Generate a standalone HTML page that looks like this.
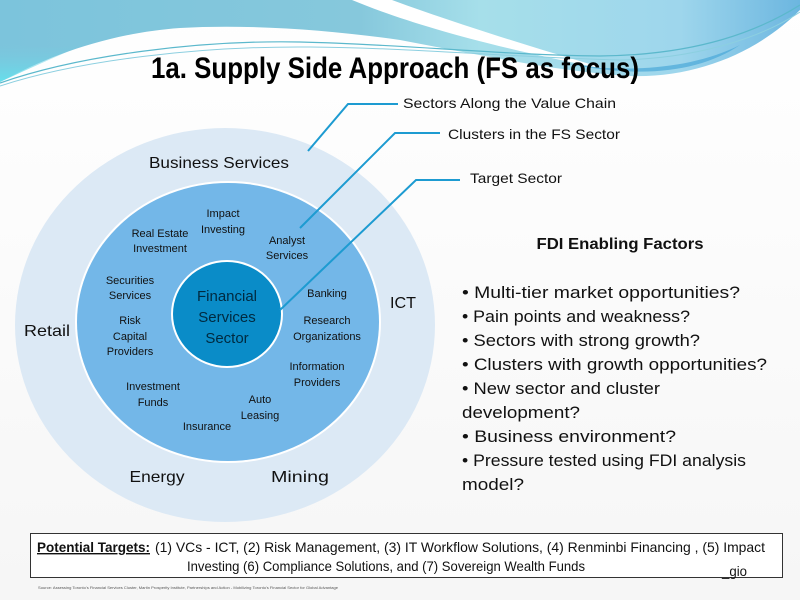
<!DOCTYPE html>
<html><head><meta charset="utf-8"><style>
html,body{margin:0;padding:0;width:800px;height:600px;overflow:hidden;background:#fff}
svg text{font-family:"Liberation Sans",sans-serif}
</style></head><body>
<svg width="800" height="600" viewBox="0 0 800 600" xmlns="http://www.w3.org/2000/svg">
<defs>
<linearGradient id="g1" x1="0" y1="0" x2="1" y2="0">
<stop offset="0" stop-color="#7cc4dc"/><stop offset="0.45" stop-color="#86c8dc"/><stop offset="0.6" stop-color="#a6dfea"/><stop offset="0.85" stop-color="#9ed6ec"/><stop offset="1" stop-color="#6cb6e0"/></linearGradient>
<linearGradient id="g3" x1="0" y1="0" x2="0" y2="1">
<stop offset="0" stop-color="#7cc4dc" stop-opacity="0"/><stop offset="1" stop-color="#66e0ec"/></linearGradient>
<linearGradient id="bg" x1="0" y1="0" x2="0" y2="1">
<stop offset="0" stop-color="#ffffff"/><stop offset="1" stop-color="#f6f6f6"/></linearGradient>
</defs>
<rect width="800" height="600" fill="url(#bg)"/>
<path d="M0 0 H800 V10 C760 50 700 78 630 76 C560 72 480 55 400 40 C330 30 250 24 180 28 C110 33 50 55 0 82 Z" fill="url(#g1)"/>
<path d="M0 40 C30 50 60 50 90 42 C60 55 30 68 0 82 Z" fill="url(#g3)"/>
<path d="M352 0 C400 20 480 45 610 70 C500 38 430 14 392 0 Z" fill="#fff"/>
<path d="M560 62 C620 74 690 70 740 45 C700 72 640 80 560 62 Z" fill="#4aa8d8" opacity="0.7"/>
<path d="M0 83 C80 55 200 40 300 42 C400 44 500 55 600 56 C700 55 760 30 800 5" fill="none" stroke="#5bb8cc" stroke-width="1.2"/>
<path d="M0 86 C80 60 200 46 310 47 C420 48 520 58 620 60 C710 58 770 32 800 12" fill="none" stroke="#8ccfe0" stroke-width="1"/>

<text x="395" y="78" font-size="30" font-weight="bold" text-anchor="middle" textLength="488" lengthAdjust="spacingAndGlyphs" fill="#000">1a. Supply Side Approach (FS as focus)</text>

<ellipse cx="225" cy="325" rx="210" ry="197" fill="#dce9f5"/>
<ellipse cx="228" cy="322" rx="153" ry="141" fill="#fff"/>
<ellipse cx="228" cy="322" rx="151" ry="139" fill="#73b7e8"/>
<ellipse cx="227" cy="314" rx="56" ry="54" fill="#fff"/>
<ellipse cx="227" cy="314" rx="54" ry="52" fill="#0a8cc8"/>

<g fill="none" stroke="#1d9bd1" stroke-width="2">
<polyline points="308,151 348,104 398,104"/>
<polyline points="300,228 395,133 440,133"/>
<polyline points="280,310 416,180 460,180"/>
</g>
<g font-size="14" fill="#111">
<text x="403" y="108" textLength="213" lengthAdjust="spacingAndGlyphs">Sectors Along the Value Chain</text>
<text x="448" y="139" textLength="172" lengthAdjust="spacingAndGlyphs">Clusters in the FS Sector</text>
<text x="470" y="183" textLength="92" lengthAdjust="spacingAndGlyphs">Target Sector</text>
</g>

<g font-size="16" fill="#111" text-anchor="middle">
<text x="219" y="168" textLength="140" lengthAdjust="spacingAndGlyphs">Business Services</text>
<text x="47" y="336" textLength="46" lengthAdjust="spacingAndGlyphs">Retail</text>
<text x="403" y="308" textLength="26" lengthAdjust="spacingAndGlyphs">ICT</text>
<text x="157" y="482" textLength="55" lengthAdjust="spacingAndGlyphs">Energy</text>
<text x="300" y="482" textLength="58" lengthAdjust="spacingAndGlyphs">Mining</text>
</g>
<g font-size="15" fill="#002a40" text-anchor="middle">
<text x="227" y="301">Financial</text>
<text x="227" y="322">Services</text>
<text x="227" y="343">Sector</text>
</g>
<g font-size="11" fill="#111" text-anchor="middle">
<text x="223" y="217">Impact</text><text x="223" y="233">Investing</text>
<text x="160" y="237">Real Estate</text><text x="160" y="252">Investment</text>
<text x="287" y="244">Analyst</text><text x="287" y="259">Services</text>
<text x="130" y="284">Securities</text><text x="130" y="299">Services</text>
<text x="327" y="297">Banking</text>
<text x="130" y="324">Risk</text><text x="130" y="340">Capital</text><text x="130" y="355">Providers</text>
<text x="327" y="324">Research</text><text x="327" y="340">Organizations</text>
<text x="317" y="370">Information</text><text x="317" y="386">Providers</text>
<text x="153" y="390">Investment</text><text x="153" y="406">Funds</text>
<text x="260" y="403">Auto</text><text x="260" y="419">Leasing</text>
<text x="207" y="430">Insurance</text>
</g>

<text x="620" y="249" font-size="16" font-weight="bold" text-anchor="middle" textLength="167" lengthAdjust="spacingAndGlyphs" fill="#111">FDI Enabling Factors</text>
<g font-size="17" fill="#111">
<text x="462" y="298" textLength="278" lengthAdjust="spacingAndGlyphs">• Multi-tier market opportunities?</text>
<text x="462" y="322" textLength="228" lengthAdjust="spacingAndGlyphs">• Pain points and weakness?</text>
<text x="462" y="346" textLength="238" lengthAdjust="spacingAndGlyphs">• Sectors with strong growth?</text>
<text x="462" y="370" textLength="305" lengthAdjust="spacingAndGlyphs">• Clusters with growth opportunities?</text>
<text x="462" y="394" textLength="198" lengthAdjust="spacingAndGlyphs">• New sector and cluster</text>
<text x="462" y="418" textLength="118" lengthAdjust="spacingAndGlyphs">development?</text>
<text x="462" y="442" textLength="214" lengthAdjust="spacingAndGlyphs">• Business environment?</text>
<text x="462" y="466" textLength="284" lengthAdjust="spacingAndGlyphs">• Pressure tested using FDI analysis</text>
<text x="462" y="490" textLength="62" lengthAdjust="spacingAndGlyphs">model?</text>
</g>

<rect x="30.5" y="533.5" width="752" height="44" fill="#fff" stroke="#333" stroke-width="1"/>
<g font-size="14" fill="#111">
<text x="37" y="552" font-weight="bold" text-decoration="underline" textLength="113" lengthAdjust="spacingAndGlyphs">Potential Targets:</text>
<text x="155" y="552" textLength="610" lengthAdjust="spacingAndGlyphs">(1) VCs - ICT, (2) Risk Management, (3) IT Workflow Solutions, (4) Renminbi Financing , (5) Impact</text>
<text x="187" y="571" textLength="398" lengthAdjust="spacingAndGlyphs">Investing (6) Compliance Solutions, and (7) Sovereign Wealth Funds</text>
<text x="722" y="576" textLength="25" lengthAdjust="spacingAndGlyphs">_gio</text>
</g>
<text x="38" y="589" font-size="4" fill="#555" textLength="300" lengthAdjust="spacingAndGlyphs">Source: Assessing Toronto's Financial Services Cluster, Martin Prosperity Institute, Partnerships and Action - Mobilizing Toronto's Financial Sector for Global Advantage</text>
</svg>
</body></html>
